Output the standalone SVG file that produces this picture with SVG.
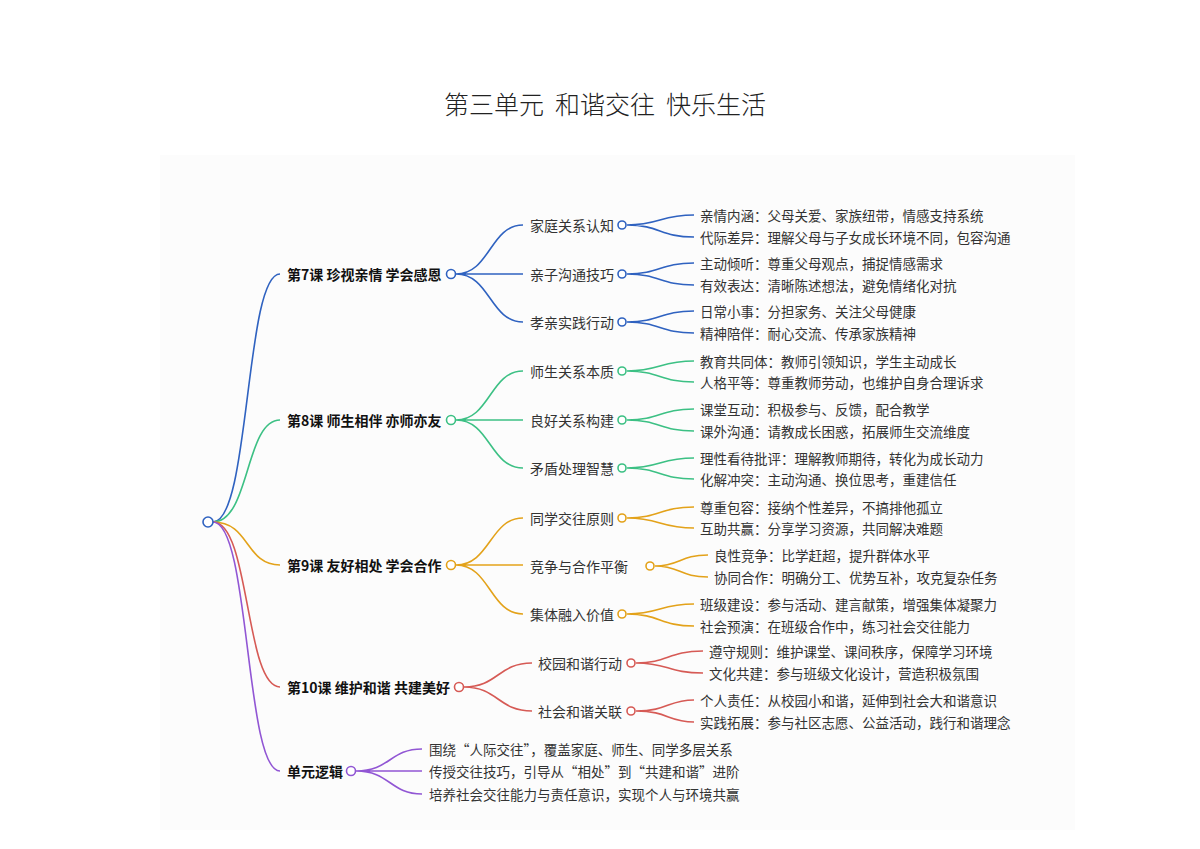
<svg xmlns="http://www.w3.org/2000/svg" width="1200" height="849" viewBox="0 0 1200 849">
<style>
text{font-family:"Noto Sans CJK SC","Noto Sans",sans-serif;fill:#222;dominant-baseline:central}
.t{font-size:25px;font-weight:300}
.l{font-size:14px;font-weight:bold;fill:#111}
.c{font-size:14px;fill:#333}
.f{font-size:13.5px;fill:#333}
path{fill:none;stroke-width:1.6}
circle{fill:#fff;stroke-width:1.6}
.b{stroke:#2f62c0}.g{stroke:#3cc084}.y{stroke:#e3a21a}.r{stroke:#d65a55}.p{stroke:#9156d4}
</style>
<rect width="1200" height="849" fill="#fff"/>
<rect x="160" y="155" width="915" height="675" fill="#fcfcfc"/>
<text class="t" x="605" y="103" text-anchor="middle" xml:space="preserve">第三单元  和谐交往  快乐生活</text>
<g id="connectors">
<path class="b" d="M213,522 C250,522 245,274 280,274"/>
<path class="g" d="M213,522 C250,522 245,420 280,420"/>
<path class="y" d="M213,522 C250,522 245,565 280,565"/>
<path class="r" d="M213,522 C250,522 245,687 280,687"/>
<path class="p" d="M213,522 C250,522 245,771 280,771"/>
<path class="b" d="M456,274 C490,274 490,225 523,225 M456,274 H523 M456,274 C490,274 490,322 523,322"/>
<path class="b" d="M627,225 C660,225 660,215 694,215 M627,225 C660,225 660,237 694,237 M627,274 C660,274 660,263 694,263 M627,274 C660,274 660,285 694,285 M627,322 C660,322 660,311 694,311 M627,322 C660,322 660,333 694,333"/>
<path class="g" d="M456,420 C490,420 490,371 523,371 M456,420 H523 M456,420 C490,420 490,468 523,468"/>
<path class="g" d="M627,371 C660,371 660,361 694,361 M627,371 C660,371 660,382 694,382 M627,420 C660,420 660,409 694,409 M627,420 C660,420 660,431 694,431 M627,468 C660,468 660,458 694,458 M627,468 C660,468 660,479 694,479"/>
<path class="y" d="M456,565 C490,565 490,518 523,518 M456,565 H523 M456,565 C490,565 490,614 523,614"/>
<path class="y" d="M627,518 C660,518 660,507 694,507 M627,518 C660,518 660,528 694,528 M655,566 C680,566 680,555 708,555 M655,566 C680,566 680,577 708,577 M627,614 C660,614 660,604 694,604 M627,614 C660,614 660,626 694,626"/>
<path class="r" d="M464,687 C498,687 498,663 532,663 M464,687 C498,687 498,711 532,711"/>
<path class="r" d="M636,663 C668,663 668,651 703,651 M636,663 C668,663 668,673 703,673 M636,711 C668,711 668,700 694,700 M636,711 C668,711 668,722 694,722"/>
<path class="p" d="M356,771 C390,771 390,749 422,749 M356,771 H422 M356,771 C390,771 390,794 422,794"/>
</g>
<g id="root"><circle class="b" cx="208" cy="522" r="5"/></g>
<g id="l7"><text class="l" x="287" y="274">第7课 珍视亲情 学会感恩</text><circle class="b" cx="451" cy="274" r="4.5"/></g>
<g id="l7a"><text class="c" x="530" y="225">家庭关系认知</text><circle class="b" cx="622" cy="225" r="4"/></g>
<g id="l7b"><text class="c" x="530" y="274">亲子沟通技巧</text><circle class="b" cx="622" cy="274" r="4"/></g>
<g id="l7c"><text class="c" x="530" y="322">孝亲实践行动</text><circle class="b" cx="622" cy="322" r="4"/></g>
<g id="l7leaves">
<text class="f" x="700" y="215">亲情内涵：父母关爱、家族纽带，情感支持系统</text>
<text class="f" x="700" y="237">代际差异：理解父母与子女成长环境不同，包容沟通</text>
<text class="f" x="700" y="263">主动倾听：尊重父母观点，捕捉情感需求</text>
<text class="f" x="700" y="285">有效表达：清晰陈述想法，避免情绪化对抗</text>
<text class="f" x="700" y="311">日常小事：分担家务、关注父母健康</text>
<text class="f" x="700" y="333">精神陪伴：耐心交流、传承家族精神</text>
</g>
<g id="l8"><text class="l" x="287" y="420">第8课 师生相伴 亦师亦友</text><circle class="g" cx="451" cy="420" r="4.5"/></g>
<g id="l8a"><text class="c" x="530" y="371">师生关系本质</text><circle class="g" cx="622" cy="371" r="4"/></g>
<g id="l8b"><text class="c" x="530" y="420">良好关系构建</text><circle class="g" cx="622" cy="420" r="4"/></g>
<g id="l8c"><text class="c" x="530" y="468">矛盾处理智慧</text><circle class="g" cx="622" cy="468" r="4"/></g>
<g id="l8leaves">
<text class="f" x="700" y="361">教育共同体：教师引领知识，学生主动成长</text>
<text class="f" x="700" y="382">人格平等：尊重教师劳动，也维护自身合理诉求</text>
<text class="f" x="700" y="409">课堂互动：积极参与、反馈，配合教学</text>
<text class="f" x="700" y="431">课外沟通：请教成长困惑，拓展师生交流维度</text>
<text class="f" x="700" y="458">理性看待批评：理解教师期待，转化为成长动力</text>
<text class="f" x="700" y="479">化解冲突：主动沟通、换位思考，重建信任</text>
</g>
<g id="l9"><text class="l" x="287" y="565">第9课 友好相处 学会合作</text><circle class="y" cx="451" cy="565" r="4.5"/></g>
<g id="l9a"><text class="c" x="530" y="518">同学交往原则</text><circle class="y" cx="622" cy="518" r="4"/></g>
<g id="l9b"><text class="c" x="530" y="566">竞争与合作平衡</text><circle class="y" cx="650" cy="566" r="4"/></g>
<g id="l9c"><text class="c" x="530" y="614">集体融入价值</text><circle class="y" cx="622" cy="614" r="4"/></g>
<g id="l9leaves">
<text class="f" x="700" y="507">尊重包容：接纳个性差异，不搞排他孤立</text>
<text class="f" x="700" y="528">互助共赢：分享学习资源，共同解决难题</text>
<text class="f" x="714" y="555">良性竞争：比学赶超，提升群体水平</text>
<text class="f" x="714" y="577">协同合作：明确分工、优势互补，攻克复杂任务</text>
<text class="f" x="700" y="604">班级建设：参与活动、建言献策，增强集体凝聚力</text>
<text class="f" x="700" y="626">社会预演：在班级合作中，练习社会交往能力</text>
</g>
<g id="l10"><text class="l" x="287" y="687">第10课 维护和谐 共建美好</text><circle class="r" cx="459" cy="687" r="4.5"/></g>
<g id="l10a"><text class="c" x="538" y="663">校园和谐行动</text><circle class="r" cx="631" cy="663" r="4"/></g>
<g id="l10b"><text class="c" x="538" y="711">社会和谐关联</text><circle class="r" cx="631" cy="711" r="4"/></g>
<g id="l10leaves">
<text class="f" x="709" y="651">遵守规则：维护课堂、课间秩序，保障学习环境</text>
<text class="f" x="709" y="673">文化共建：参与班级文化设计，营造积极氛围</text>
<text class="f" x="700" y="700">个人责任：从校园小和谐，延伸到社会大和谐意识</text>
<text class="f" x="700" y="722">实践拓展：参与社区志愿、公益活动，践行和谐理念</text>
</g>
<g id="unit"><text class="l" x="287" y="771">单元逻辑</text><circle class="p" cx="351" cy="771" r="4.5"/></g>
<g id="unitleaves">
<text class="f" x="429" y="749">围绕“人际交往”，覆盖家庭、师生、同学多层关系</text>
<text class="f" x="429" y="771">传授交往技巧，引导从“相处”到“共建和谐”进阶</text>
<text class="f" x="429" y="794">培养社会交往能力与责任意识，实现个人与环境共赢</text>
</g>
</svg>
